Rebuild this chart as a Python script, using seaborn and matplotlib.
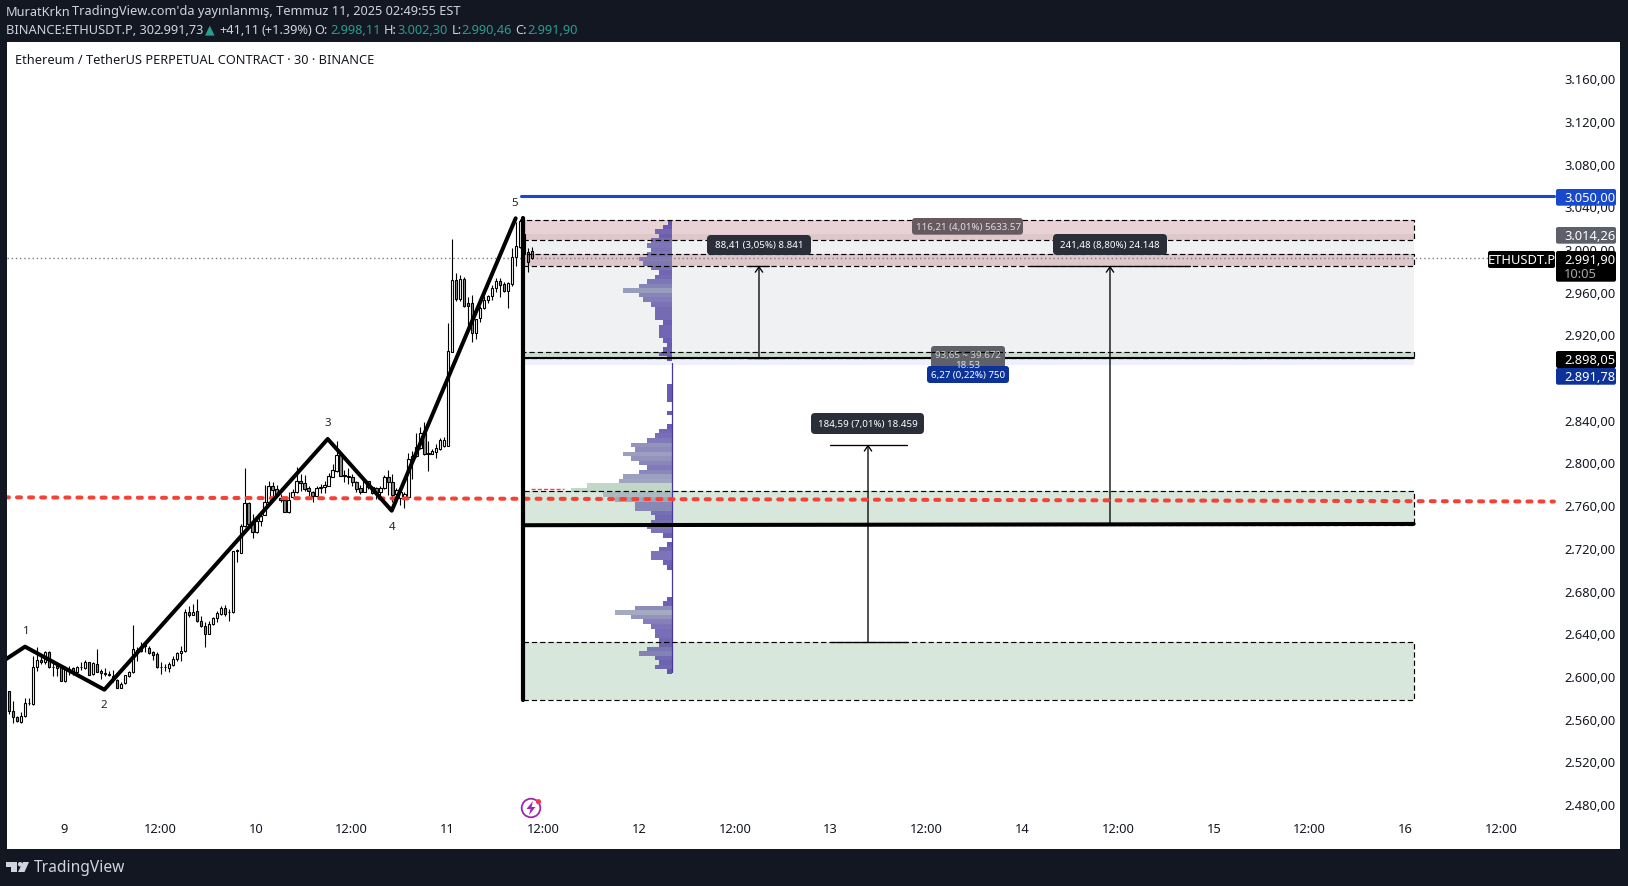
import numpy as np
import matplotlib
matplotlib.use("Agg")
import matplotlib.pyplot as plt
import seaborn as sns
from matplotlib.patches import FancyBboxPatch, Rectangle, Circle, Polygon
from matplotlib.transforms import IdentityTransform
from matplotlib.colors import to_rgb

# ---------------- data ----------------
candle_start_day = 8.7125
candle_open = [
 2585.6,2567.5,2561.2,2556.9,2562.2,2574.7,2573.7,2608.1,2615,2612.8,
 2622.8,2608.7,2609.6,2608.1,2595.6,2605,2607.1,2603.4,2608.1,2607.1,
 2612.8,2601.8,2610.9,2604.3,2602.8,2601.5,2600.3,2596.2,2589,2593.1,
 2599.6,2603.4,2624.6,2623.7,2627.8,2626.2,2622.1,2620.6,2608.7,2608.1,
 2607.8,2610.6,2615.9,2621.2,2623.7,2660.2,2657.4,2660.5,2651.8,2647.1,
 2639.6,2648.4,2654,2658,2663.4,2660.2,
 2659.6,2718,2715.2,2740.2,2762.1,2742.4,2735.2,2745.5,2751.1,2762.7,
 2777.7,2775.2,2766.7,2764.9,2753.6,2768,2772,2782.4,2780.5,2775.8,
 2772.7,2768.9,2775.8,2776.7,2778.3,2786.7,2792.4,2807,2788,2787,
 2786.1,2781.4,2775.8,2772.7,2782.4,2776.7,2775.8,2772.7,2775.8,2786.1,
 2781.4,2770.5,2766.7,2767.1,2767.4,2803,2805.8,2813.3,2827.3,2808.6,
 2808.3,2810.2,2812.7,2815.8,
 2815.8,2903.8,2971,2953.1,2971.9,2949.1,2949.1,2921,2935,2944.4,
 2952.5,2955.6,2963.1,2969.7,2967.2,2961,2967.2,2992.2,3002.2,3014,
 2996.9,2998.11]
candle_high = [
 2586.2,2576.8,2562.8,2565.9,2579,2579,2619,2626.8,2619,2623.7,
 2623.7,2612.8,2612.8,2610.3,2609.6,2609.6,2608.1,2609.6,2613.4,2615.3,
 2612.8,2612.8,2625.2,2606.5,2607.1,2605,2605.6,2597.2,2594,2600.9,
 2605,2647.7,2626.8,2631.5,2629.9,2628.4,2623.7,2622.1,2612.8,2611.2,
 2612.8,2619,2622.8,2628.4,2662.7,2665.9,2667.4,2672,2656.5,2650.2,
 2651.8,2654.9,2661.2,2665.9,2666.5,2662.7,
 2717.4,2719,2742.4,2794.9,2762.7,2751.8,2747.7,2751.8,2778.9,2782.4,
 2781.4,2778.9,2770.5,2767.4,2772.7,2775.2,2796.1,2789.2,2788.3,2777.7,
 2773.6,2777.7,2779.9,2783,2790.2,2798.6,2820.5,2808,2793,2794.5,
 2789.2,2782.4,2779.2,2783,2783,2778.3,2776.7,2778.3,2788.3,2793,
 2789.2,2775.8,2775.2,2772,2808.6,2811.1,2827.3,2833,2837.6,2820.5,
 2812.7,2817.3,2822.6,2823.6,
 2930.3,3009.4,2977.5,2975.6,2973.4,2955.3,2956.9,2934.4,2946.9,2956.3,
 2956.9,2966.3,2972.5,2972.5,2968.8,2969.4,3000.6,3025,3028.1,3029.7,
 3000.6,3002.3]
candle_low = [
 2564.4,2555.6,2556.9,2556.2,2561.2,2572.8,2572.8,2605,2611.2,2611.2,
 2607.5,2599.6,2600.3,2595.3,2594.6,2600.9,2600.9,2602.8,2605.6,2606.5,
 2600.9,2601.2,2603.4,2597.2,2600.3,2600.3,2594,2588.4,2589,2592.5,
 2599.3,2602.8,2614.3,2622.1,2622.8,2620.6,2615.3,2607.8,2602.1,2604.3,
 2604,2609.6,2614.3,2614,2622.1,2654.9,2657.1,2650.9,2645.6,2627.4,
 2639,2647.7,2650.2,2657.4,2656.5,2651.8,
 2659,2707.1,2714.9,2739.6,2742.1,2729.6,2734.3,2740.8,2750.8,2762.1,
 2768.9,2767.4,2762.7,2753.6,2753,2766.7,2771.4,2773,2773.6,2768.9,
 2763.3,2768.3,2771.1,2771.4,2777.7,2786.1,2791.4,2787,2781.4,2779.9,
 2778.3,2772.7,2770.5,2772.7,2775.2,2770.5,2765.8,2767.4,2775.2,2769.6,
 2762.7,2762.7,2760.2,2757.1,2767.1,2784.5,2804.8,2812.7,2807.3,2792.4,
 2808,2804.2,2812,2814.2,
 2815,2903.2,2951.6,2951.6,2945.3,2925,2913.2,2915.7,2931.9,2943.8,
 2949.4,2952.2,2960,2955.3,2960,2945,2965.6,2984.4,3000.6,2993.7,
 2978.1,2990.46]
candle_close = [
 2567.5,2561.2,2557.5,2562.2,2574.4,2574.4,2608.1,2615,2612.8,2622.8,
 2608.1,2608.1,2607.8,2595.6,2606.5,2606.5,2602.8,2608.4,2608.7,2612.8,
 2601.2,2612.1,2604,2602.5,2602.1,2600.6,2596.2,2588.7,2592.8,2600.6,
 2603.4,2624.9,2623.4,2628.4,2629,2621.5,2619.9,2608.1,2608.1,2608.7,
 2611.2,2615.9,2621.5,2623.7,2660.2,2657.4,2660.2,2651.8,2647.1,2639.6,
 2648.7,2654,2658.7,2663.4,2658.4,2659.6,
 2717.4,2717.4,2740.2,2761.8,2742.4,2735.2,2745.5,2750.2,2762.7,2777.7,
 2774.6,2769.6,2764.9,2753.9,2764.9,2772,2782.4,2780.5,2775.2,2773,
 2768.6,2775.8,2776.7,2778.6,2787,2792.7,2807,2787.7,2787,2786.1,
 2781.4,2775.2,2772.7,2782.4,2776.7,2771.4,2772,2776.1,2786.4,2781.4,
 2769.6,2774.5,2772,2770.5,2803,2806.4,2814.2,2827.3,2808,2808,
 2810.8,2813.3,2820.8,2820.8,
 2904.1,2971,2953.1,2971.9,2946.9,2946.9,2921,2934.4,2944.4,2952.5,
 2955.6,2963.4,2969.7,2966.6,2961,2968.1,2992.2,3002.5,3026.5,2995.3,
 2987.5,2991.9]

wave_days = [8.69, 8.795, 9.209, 10.375, 10.709, 11.356]
wave_prices = [2615.0, 2627.4, 2587.1, 2822.0, 2754.8, 3028.8]

profile_top_price = 3026.9
profile_row_size = 4.25
profile_volume = [
 4,8.7,16.7,12.7,20.7,24.7,20.7,24.7,32.7,28.7,
 20.7,12.7,16.7,24.7,32.7,48.7,32.7,28.7,20.7,16.7,
 16.7,16.7,8.7,12.7,12.7,12.7,8.7,4.7,8.7,12.7,
 4.7,0.5,0.5,0.5,0.5,0.5,5,5,5,5,
 0.5,0.5,5,0.5,0.5,5,13,17,25,41,
 37,49,41,33,25,33,49,53,85,101,
 69,57,37,37,21,17,21,25,21,9,
 0.5,5,13,21,21,9,5,0.5,0.5,0.5,
 0.5,0.5,0.5,5,9,37,57,41,29,21,
 17,17,13,13,25,33,17,13,17,5]

zone_left = 11.394
zone_right = 16.043
zone_pink_top = (3008.7, 3026.9)
zone_pink_mid = (2984.4, 2995.0)
zone_gray = (2898.05, 3014.26)
zone_green_thin = (2898.05, 2903.2)
zone_blue = (2891.78, 2898.05)
zone_green_mid = (2741.5, 2773.0)
zone_green_low = (2577.5, 2631.5)

level_blue = 3050.0
level_last = 2991.9
level_black_top = 2898.05
level_black_low = (2741.2, 2742.4)
level_red_days = (8.69, 16.775)
level_red_prices = (2767.3, 2763.4)

measures = [  # arrow day, cap left, cap right, from price, to price
 (12.626, 12.567, 12.68, 2898.05, 2984.4),
 (14.458, 14.04, 14.875, 2742.0, 2984.4),
 (13.195, 12.995, 13.397, 2631.5, 2816.8)]

price_ticks = list(range(2480, 3161, 40))
day_ticks = [9 + 0.5 * i for i in range(16)]
day_labels = ["9", "12:00", "10", "12:00", "11", "12:00", "12", "12:00", "13", "12:00",
              "14", "12:00", "15", "12:00", "16", "12:00"]

# ---------------- figure ----------------
W, H = 1628, 887
DARK = "#131722"
FONT = "Noto Sans"
sns.set_theme(style="white")
plt.rcParams["font.family"] = [FONT, "DejaVu Sans"]

fig = plt.figure(figsize=(W / 100, H / 100), dpi=100, facecolor=DARK)
ax = fig.add_axes([7 / W, 1 - 850 / H, (1620 - 7) / W, 807 / H])
ax.set_facecolor("white")
for s in ax.spines.values():
    s.set_visible(False)
ax.set_xlim(8.701, 17.12)
ax.set_ylim(2437.8, 3194.0)
ax.set_yticks(price_ticks)
ax.set_yticklabels([f"{p:,.2f}".replace(",", "#").replace(".", ",").replace("#", ".") for p in price_ticks])
ax.set_xticks(day_ticks)
ax.set_xticklabels(day_labels)
ax.yaxis.tick_right()
ax.tick_params(axis="y", length=0, pad=-40.3, labelsize=9.3, labelcolor="#131722")
ax.tick_params(axis="x", length=0, pad=-19.5, labelsize=9.3, labelcolor="#131722")
ax.get_xticklabels()[10].set_fontweight("bold")
for t in ax.get_yticklabels():
    t.set_horizontalalignment("left")

# zones
zw = zone_right - zone_left
def zone(rng, color, alpha, z, edge=True):
    ax.add_patch(Rectangle((zone_left, rng[0]), zw, rng[1] - rng[0], facecolor=color, alpha=alpha,
                           edgecolor="none", zorder=z))
    if edge:
        ax.add_patch(Rectangle((zone_left, rng[0]), zw, rng[1] - rng[0], facecolor="none",
                               edgecolor="#000000", lw=0.85, ls=(0, (4.5, 2.5)), zorder=z + 3))

zone(zone_gray, "#787b86", 0.105, 1, edge=False)
zone(zone_pink_top, "#b0606a", 0.28, 1.1)
zone(zone_pink_mid, "#b0606a", 0.28, 1.1)
zone(zone_green_thin, "#3d8a4d", 0.2, 1.1)
zone(zone_blue, "#2a4fd0", 0.08, 1.1, edge=False)
zone(zone_green_mid, "#3d8a4d", 0.2, 1.1)
zone(zone_green_low, "#3d8a4d", 0.2, 1.1)

# last-price dotted line
ax.plot([8.701, 16.43], [level_last, level_last], color="#787b86", lw=1, ls=(0, (1, 2)), zorder=1.6)

# candles
n = len(candle_open)
days = candle_start_day + np.arange(n) / 48
op, hi, lo, cl = map(np.array, (candle_open, candle_high, candle_low, candle_close))
ax.vlines(days, lo, hi, color="black", lw=0.8, zorder=2)
up = cl >= op
body_w = 2.4 / 191.6
ax.bar(days[up], (cl - op)[up], bottom=op[up], width=body_w, facecolor="white", edgecolor="black", lw=0.8, zorder=2.1)
ax.bar(days[~up], (op - cl)[~up], bottom=cl[~up], width=body_w, facecolor="#8a8a8a", edgecolor="black", lw=0.8, zorder=2.1)

# volume profile
profile_right = 12.172
vol = np.array(profile_volume)
rows = profile_top_price - (np.arange(len(vol)) + 0.5) * profile_row_size
c0, c1 = np.array(to_rgb("#4a35a5")), np.array(to_rgb("#b9d0c0"))
cols = [tuple(c0 + (c1 - c0) * min(v / 85, 1)) for v in vol]
ax.barh(rows, -vol / 191.6, left=profile_right, height=profile_row_size, color=cols, alpha=0.85,
        linewidth=0, zorder=3)
ax.plot([profile_right, profile_right], [rows[31], rows[-1]], color="#4a35a5", lw=0.9, zorder=3.1)

# levels
ax.plot(level_red_days, level_red_prices, color="#f44336", lw=2.9, ls=(0, (1, 2)), dash_capstyle="round", zorder=4.5)
ax.plot([11.435, 11.607], [2774.7, 2774.7], color="#f44336", lw=1, ls=(0, (3, 1.5)), zorder=4.5)
ax.plot([11.385, 16.775], [level_blue, level_blue], color="#1848cc", lw=2.2, solid_capstyle="round", zorder=4.5)
ax.plot([zone_left, zone_right], [level_black_top, level_black_top], color="black", lw=1.5, zorder=4.6)
ax.plot([zone_left, zone_right], level_black_low, color="black", lw=2.9, zorder=4.6)
ax.plot([zone_left, zone_left], [2577.5, 3029.0], color="black", lw=3.0, zorder=4.6, solid_capstyle="round")

# wave
sns.lineplot(x=wave_days, y=wave_prices, sort=False, estimator=None, color="black", linewidth=2.9,
             ax=ax, zorder=4.7, legend=False)

# measures
for d, a, b, p0, p1 in measures:
    ax.plot([a, b], [p0, p0], color="black", lw=0.95, zorder=4.4)
    ax.plot([a, b], [p1, p1], color="black", lw=0.95, zorder=4.4)
    ax.annotate("", xy=(d, p1), xytext=(d, p0), zorder=4.4,
                arrowprops=dict(arrowstyle="->,head_length=0.32,head_width=0.22", color="black", lw=0.95,
                                shrinkA=0, shrinkB=0))

ax.set_xlabel("")
ax.set_ylabel("")

# ---------------- overlays (pixel placed) ----------------
def box(x0, y0, x1, y1, color, r=2.5, alpha=1.0, z=6):
    fig.add_artist(FancyBboxPatch((x0 + r, H - y1 + r), x1 - x0 - 2 * r, y1 - y0 - 2 * r,
                                  boxstyle=f"round,pad={r},rounding_size={r}", facecolor=color, edgecolor="none",
                                  alpha=alpha, transform=IdentityTransform(), zorder=z))

def txt(x, y, s, color="white", size=9.3, weight="normal", ha="left", va="center", z=7, **kw):
    return fig.text(x / W, 1 - y / H, s, color=color, fontsize=size, fontweight=weight, ha=ha, va=va, zorder=z, **kw)

# header
HC = "#d1d4dc"
TEAL = "#2a9d8f"
txt(6, 12, "MuratKrkn", HC, 9.2, "bold")
txt(71.5, 12, "TradingView.com'da yayınlanmış, Temmuz 11, 2025 02:49:55 EST", HC, 9.2)
txt(6, 30, "BINANCE:ETHUSDT.P, 30", HC, 9.2, "bold")
txt(153, 30, "2.991,73", HC, 9.2)
txt(205, 30, "▲", TEAL, 9, family="DejaVu Sans")
txt(219, 30, "+41,11", HC, 9.2)
txt(261, 30, "(+1.39%)", HC, 9.2)
for xa, la, xb, v in [(314.5, "O:", 330, "2.998,11"), (383.5, "H:", 397, "3.002,30"),
                      (451.5, "L:", 461, "2.990,46"), (515.5, "C:", 527.5, "2.991,90")]:
    txt(xa, 30, la, HC, 9.2, "bold")
    txt(xb, 30, v, TEAL, 9.2)
txt(15, 60, "Ethereum / TetherUS PERPETUAL CONTRACT · 30 · BINANCE", "#131722", 9.2, "medium")

# wave labels
for lx, ly, s in [(26, 631, "1"), (104, 706, "2"), (328, 423.5, "3"), (392.5, 527.5, "4"), (515, 203.5, "5")]:
    txt(lx, ly, s, "#222222", 8.3, "bold", ha="center", z=5)

# drawing labels
box(707, 236, 811, 256, "#2a2e39", 4)
txt(759, 246, "88,41 (3,05%) 8.841", "white", 7, "medium", ha="center")
box(1053, 235, 1167, 256, "#2a2e39", 4)
txt(1110, 245.5, "241,48 (8,80%) 24.148", "white", 7, "medium", ha="center")
box(811, 414, 924, 435, "#2a2e39", 4)
txt(868, 424.5, "184,59 (7,01%) 18.459", "white", 7, "medium", ha="center")
box(912, 219, 1023, 235.7, "#665a60", 3)
txt(968, 227.5, "116,21 (4,01%) 5633.57", "#e3dcdf", 7, "medium", ha="center")
box(931, 347, 1005, 369, "#5f6068", 3)
txt(968, 355.5, "93,65 ~ 39.672", "#c8d6c8", 7, "medium", ha="center")
txt(968, 365.5, "18.53", "#e0e0e0", 7, "medium", ha="center")
box(927, 367, 1009, 384, "#0c3299", 3)
txt(968, 375.5, "6,27 (0,22%) 750", "white", 7, "medium", ha="center")
# dashes and line seen through the grey tag
for price_y in (353.3,):
    fig.add_artist(plt.Line2D([931, 1005], [H - price_y, H - price_y], color="black", lw=0.85,
                              ls=(0, (4.5, 2.5)), transform=IdentityTransform(), zorder=6.5))

# price labels
def price_box(y0, y1, color, s, z=6):
    box(1556, y0, 1616, y1, color, 2, z=z)
    txt(1564, (y0 + y1) / 2, s, "white", 9.3, "medium", z=z + 1)

price_box(190, 206.7, "#1848cc", "3.050,00")
price_box(228, 244.7, "#5d606b", "3.014,26")
box(1556, 252, 1616, 282.7, "#000000", 2)
txt(1564, 260.5, "2.991,90", "white", 9.3, "medium")
txt(1564, 274, "10:05", "#a8a8a8", 9.3)
box(1488, 252, 1555, 269, "#000000", 2)
txt(1521.5, 260.5, "ETHUSDT.P", "white", 9.3, "medium", ha="center")
price_box(352, 369, "#000000", "2.898,05")
price_box(369, 385.7, "#0c3299", "2.891,78")

# bolt icon
fig.add_artist(Circle((531, H - 809), 9.3, facecolor="none", edgecolor="#9c27b0", lw=1.3,
                      transform=IdentityTransform(), zorder=6))
fig.add_artist(Polygon([(533, H - 802), (526.5, H - 810), (530.5, H - 810), (529, H - 816),
                        (535.5, H - 808), (531.5, H - 808)], closed=True, facecolor="#9c27b0", edgecolor="none",
                       transform=IdentityTransform(), zorder=6))
fig.add_artist(Circle((538.5, H - 802.7), 2.6, facecolor="#f23645", edgecolor="none",
                      transform=IdentityTransform(), zorder=6.2))

# TradingView logo
LOGO = "#d1d4dc"
for pts in ([(6, 863), (16.5, 863), (16.5, 873), (11, 873), (11, 867.5), (6, 867.5)],
            [(23, 863), (29, 863), (24.5, 873), (18, 873)]):
    fig.add_artist(Polygon([(a, H - b) for a, b in pts], closed=True, facecolor=LOGO, edgecolor="none",
                           transform=IdentityTransform(), zorder=6))
fig.add_artist(Circle((20.2, H - 865.3), 2.3, facecolor=LOGO, edgecolor="none", transform=IdentityTransform(), zorder=6))
txt(33.5, 868.5, "TradingView", LOGO, 11.2, "semibold")

fig.savefig("out.png", dpi=100, facecolor=DARK)
print(len(candle_open), len(candle_high), len(candle_low), len(candle_close), len(profile_volume))
